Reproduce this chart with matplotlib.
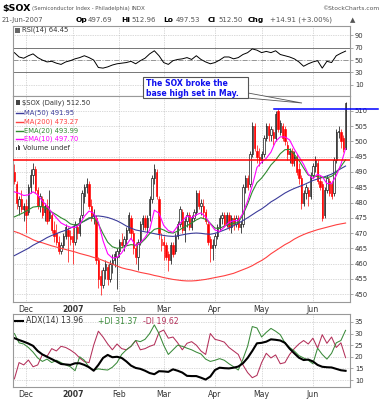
import numpy as np
import matplotlib
matplotlib.use("Agg")
import matplotlib.pyplot as plt
from matplotlib.lines import Line2D
from matplotlib.patches import Rectangle, Polygon

plt.rcParams['font.family'] = ['DejaVu Sans']

# ---- data (one entry per trading day from 24-Nov-2006) ----
months = ['Dec', '2007', 'Feb', 'Mar', 'Apr', 'May', 'Jun']
month_start = [5, 25, 45, 64, 86, 106, 128]

prev_close0 = 492.0
opens = [490, 486, 479, 481, 478, 479, 477, 485, 489, 491, 484, 479, 481, 477, 479, 475, 476, 471, 470, 467,
         464, 466, 469, 471, 469, 469, 467, 472, 470, 476, 482, 485, 486, 479, 476, 475, 461, 456, 453, 458,
         459, 455, 460, 461, 462, 464, 467, 466, 468, 471, 475, 470, 465, 462, 467, 473, 475, 472, 476, 481,
         488, 490, 481, 466, 467, 466, 463, 461, 466, 464, 469, 473, 477, 471, 474, 476, 472, 475, 477, 483,
         479, 479, 477, 473, 468, 465, 466, 469, 472, 475, 476, 473, 476, 472, 475, 473, 475, 472, 473, 485,
         488, 486, 496, 505, 497, 495, 494, 496, 501, 505, 502, 503, 501, 510, 503, 505, 504, 499, 496, 497,
         494, 495, 491, 488, 480, 483, 484, 482, 489, 492, 493, 487, 486, 476, 484, 487, 486, 483, 494, 503,
         503, 501, 497.69]
highs = [492.5, 487, 482, 484, 480, 481, 486, 491, 493, 492, 485, 483, 482, 480, 481, 484, 477, 474, 473, 469,
         467, 470, 473, 472, 471, 472, 474, 473, 476, 484, 486, 488, 487, 481, 478, 476, 462, 458, 459, 461,
         460, 461, 463, 464, 465, 468, 470, 469, 472, 477, 476, 471, 467, 468, 474, 476, 476, 476, 482, 489,
         492.7, 491, 482, 470, 469, 467, 464, 467, 467, 470, 474, 479, 478, 475, 477, 477, 476, 478, 484, 484,
         481, 481, 478, 474, 469, 468, 470, 473, 476, 477, 477, 477, 477, 476, 476, 476, 476, 474, 486, 489,
         489, 497, 506.5, 506, 499, 498, 497, 502, 506, 506, 505, 504, 510, 510.6, 507, 506, 505, 500, 498, 498,
         497, 496, 493, 489, 484, 486, 485, 490, 493, 495.3, 494, 489, 487, 485, 489, 488, 487, 495, 504, 505,
         504, 502, 512.96]
lows = [486, 478, 476, 477, 474, 470, 476, 483, 486, 483, 478, 477, 475, 474, 473, 474, 470, 467, 466, 463,
        463, 465, 468, 460.5, 466, 460, 466, 468, 469, 475, 480, 483, 478, 474, 473, 460, 452, 449.7, 452, 455,
        453, 454, 457, 459, 451.5, 462, 465, 464, 466, 470, 468, 463, 460, 457.8, 466, 471, 471, 470, 474, 480,
        486, 481, 468, 464, 461, 461, 457.5, 460, 462, 463, 468, 472, 470, 467, 472, 471, 471, 474, 476, 478,
        476, 475, 473, 466, 460.5, 461, 465, 468, 471, 473, 472, 472, 471, 470, 471, 472, 471, 470, 472, 483,
        484, 485, 495, 497, 493, 492, 493, 495, 500, 500, 500, 499, 500, 503, 502, 500, 499, 494, 493, 492,
        492, 489, 486, 478, 479, 481, 479, 481, 488, 490, 486, 484, 474, 475, 483, 482, 481, 482, 493, 501,
        498, 496.5, 497.53]
closes = [487, 480, 481, 478, 479, 476, 485, 489, 491, 484, 479, 482, 476, 479, 474, 477, 471, 469, 467, 464,
          466, 469, 472, 469, 468, 467, 473, 470, 475, 483, 485, 486, 479, 475, 476, 461, 455, 453, 458, 460,
          455, 460, 461, 463, 464, 467, 466, 468, 471, 476, 470, 465, 462, 467, 473, 475, 472, 475, 481, 488,
          491, 482, 470, 468, 466, 462, 461, 466, 463, 469, 473, 478, 471, 474, 476, 472, 475, 477, 483, 479,
          480, 477, 474, 467, 465, 466, 469, 472, 475, 476, 473, 476, 472, 475, 473, 475, 472, 473, 485, 488,
          485, 496, 505, 498, 495, 494, 496, 501, 505, 502, 504, 501, 509, 504, 506, 501, 500, 496, 497, 493,
          495, 490, 488, 480, 483, 485, 482, 489, 492, 494, 487, 485, 475, 484, 488, 483, 482, 494, 503, 503.5,
          500, 497.59, 512.5]

# indicator lines, sampled every second trading day
line_step = 2
ma50 = [462.6, 463.4, 464.2, 465, 466, 466.8, 467.6, 468.5, 469.2, 469.8, 470.4, 470.9, 471.6, 472.4, 473.2,
        473.9, 474.7, 475.5, 475.6, 475.4, 475.1, 474.6, 474, 473.2, 472.3, 471.6, 471, 470.7, 470.4, 470.1,
        469.8, 469.5, 469.2, 469, 468.9, 469.1, 469.4, 469.7, 469.9, 470, 469.9, 469.7, 469.6, 469.9, 470.4,
        471, 471.6, 472.4, 473.2, 474.1, 475, 476, 477, 477.9, 479, 480.2, 481.1, 482.1, 483.1, 483.9, 484.6,
        485.2, 485.8, 486.5, 487.2, 487.7, 488.2, 488.7, 489.3, 490.2, 491.1, 491.95]
ma200 = [470.5, 470, 469.3, 468.6, 467.8, 467.2, 466.8, 466.3, 465.8, 465.4, 465, 464.6, 464.2, 463.8, 463.3,
         462.9, 462.5, 462, 461.6, 461, 460.4, 459.8, 459.2, 458.6, 458.2, 457.9, 457.5, 457.1, 456.8, 456.5,
         456.1, 455.8, 455.4, 455.1, 454.8, 454.6, 454.4, 454.3, 454.3, 454.4, 454.6, 454.8, 455.1, 455.4, 455.7,
         456, 456.4, 456.8, 457.4, 458, 458.6, 459.3, 460.2, 461, 462, 463.2, 464.2, 465.2, 466.2, 467, 468,
         468.8, 469.5, 470.1, 470.6, 471.1, 471.5, 471.9, 472.3, 472.7, 473, 473.27]
ema20 = [475.3, 476, 476.7, 477.6, 478.5, 478.7, 478.6, 478, 476.9, 476, 475, 474.2, 473, 472.6, 473, 474, 475,
         474.8, 473, 469.8, 467, 465.5, 465, 465.2, 465.8, 466.2, 466, 466.5, 468, 469.8, 471.2, 471.6, 471,
         470.2, 470, 470.6, 471.6, 472.4, 473.3, 474.3, 475, 474.5, 473.2, 471.6, 471.5, 472.3, 472.8, 473.1,
         473.5, 476, 479.5, 483.5, 486.5, 488, 490, 492.3, 493.9, 496, 497.3, 497.4, 495.8, 493.8, 491.3, 489,
         488.7, 488.5, 488.2, 488.1, 488.6, 489.8, 491.8, 493.99]
ema10 = [483.5, 483, 482.3, 482.5, 483.5, 482.5, 480.5, 478.8, 476.8, 475, 473.3, 472.5, 471.9, 471.8, 472.8,
         475.5, 477.2, 476.5, 473.5, 467.5, 463.2, 461.8, 462, 463.5, 466, 468.3, 465.8, 466.8, 468.5, 471,
         477.5, 476.5, 472.5, 470.8, 470.2, 472.3, 474, 475.6, 475, 476, 476.6, 475.3, 473, 471, 470.5, 472,
         473.5, 474.1, 474, 476.5, 480.5, 485.5, 491.5, 493.2, 494.5, 496.5, 500, 501.5, 501.5, 500.5, 497.5,
         495, 492.5, 489.3, 487.8, 489.3, 488.5, 486.2, 486.2, 488.8, 492.5, 497.7]
rsi = [62, 55, 53, 57, 60, 54, 50, 47, 48, 45, 43, 47, 49, 52, 54, 57, 54, 50, 38, 37, 39, 42, 44, 45, 46, 48,
       44, 49, 53, 60, 65, 57, 46, 43, 49, 51, 52, 54, 51, 57, 51, 47, 44, 46, 50, 55, 55, 52, 54, 59, 62, 68,
       66, 62, 64, 62, 65, 59, 57, 55, 52, 47, 40, 44, 47, 49, 37, 48, 46, 57, 61, 64.45]
adx = [28, 27.2, 26.5, 25.7, 24.7, 22.5, 21, 20, 19, 18, 16.9, 16.7, 16.5, 17.2, 17.2, 16.5, 15.5, 14, 16.5,
       19.5, 20.8, 19.8, 20, 19.5, 18, 16.2, 15.2, 14.8, 14, 13, 12.5, 13.8, 13.7, 13.5, 14.6, 14, 13.2, 11.8,
       11.7, 11.7, 11, 10.2, 11.5, 14.3, 15.3, 15.1, 15, 15.3, 15.8, 17.2, 19.5, 22.5, 25.8, 26, 26.5, 27.5,
       27.3, 27, 26, 23.5, 21.5, 19.6, 18.6, 18.8, 18, 16.5, 15.7, 15.5, 15.4, 14.8, 14.2, 13.96]
plus_di = [30, 26, 25.5, 24, 22, 19.5, 18, 19, 17.5, 18.5, 17.5, 16.5, 15.7, 14, 20, 18.5, 15.5, 14.3, 14.8,
           14.5, 14.3, 15.5, 17.5, 21, 23, 24.5, 27, 26.5, 27.5, 30, 33.7, 30, 25, 21, 23, 25, 24.5, 23.7, 23,
           22, 21.2, 19, 18, 18.5, 19.2, 18.5, 17, 15.7, 14.3, 19, 24.5, 33, 32.4, 28.5, 30.5, 32.2, 31, 29.5,
           26, 24, 22.5, 20.5, 19.5, 18.5, 17, 23.7, 21, 19, 21.5, 26, 27, 31.37]
minus_di = [10.5, 17.5, 16.5, 18.6, 15.7, 16.5, 21, 20.2, 23.5, 22.5, 24.5, 24, 22.9, 21.5, 19.5, 17.9, 17.5,
            25, 31, 28.5, 25.5, 23, 25.5, 23.5, 23, 24.5, 27, 23, 23.5, 24.5, 25.2, 30.5, 31.5, 28, 28.5, 26,
            23, 25.8, 26.5, 25, 22.5, 21, 30, 27.5, 27, 26.3, 24, 22.5, 21, 16.5, 13.2, 11, 12, 17.5, 21.5,
            19.5, 20.8, 17, 17.5, 21, 23.5, 25.5, 27, 25.5, 28, 23.7, 29.5, 25.8, 28.5, 24, 26, 19.62]

base_level = 494.0

# ---- layout helpers (pixel positions of the 382x400 picture) ----
W, H = 382, 400
fig = plt.figure(figsize=(W / 100, H / 100), dpi=100)
fig.patch.set_facecolor('white')


def box(x0, y0, x1, y1):
    return [x0 / W, 1 - y1 / H, (x1 - x0) / W, (y1 - y0) / H]


def ptext(x, y, s, **kw):
    kw.setdefault('va', 'center')
    return fig.text(x / W, 1 - y / H, s, **kw)


n = len(closes)
days = np.arange(n)
line_x = np.arange(0, n, line_step)
xlim = (-0.6, 143.9)
grid_kw = dict(color='#b5b5b5', linestyle=(0, (1, 1.5)), linewidth=0.5)


def style(ax, yticks, ylim, labels=True):
    ax.set_xlim(*xlim)
    ax.set_ylim(*ylim)
    ax.yaxis.tick_right()
    ax.set_yticks(yticks)
    ax.tick_params(axis='y', length=2, width=0.5, color='#888', labelsize=4.9,
                   labelcolor='#333', pad=1.5)
    ax.set_xticks(month_start)
    if labels:
        ax.set_xticklabels(months)
        ax.tick_params(axis='x', length=0, labelsize=5.6, labelcolor='#333', pad=2.5)
        ax.get_xticklabels()[1].set_fontweight('bold')
    else:
        ax.set_xticklabels([])
        ax.tick_params(axis='x', length=0)
    ax.grid(True, **grid_kw)
    ax.set_axisbelow(True)
    for sp in ax.spines.values():
        sp.set_color('#999')
        sp.set_linewidth(0.8)


# ---- RSI panel ----
ax_rsi = fig.add_axes(box(13, 26, 350, 96))
style(ax_rsi, [10, 30, 50, 70, 90], (-8, 105), labels=False)
ax_rsi.axhline(70, color='#777', lw=0.7)
ax_rsi.axhline(30, color='#777', lw=0.7)
ax_rsi.axhline(50, color='#888', lw=0.6, linestyle=(0, (6, 2, 1, 2)))
ax_rsi.plot(line_x, rsi, color='black', lw=0.7)

# ---- price panel ----
ax = fig.add_axes(box(13, 96, 350, 302))
style(ax, np.arange(450, 511, 5), (447.4, 514.9))

o, hi, lo, c = (np.array(v, dtype=float) for v in (opens, highs, lows, closes))
prev = np.r_[prev_close0, c[:-1]]
edge = np.where(c >= prev, 'black', 'red')
face = np.where(c > o, 'white', edge)
ax.vlines(days, lo, hi, colors=edge, lw=0.5, zorder=3)
ax.bar(days, np.maximum(np.abs(c - o), 0.2), bottom=np.minimum(o, c), width=0.62,
       color=face, edgecolor=edge, linewidth=0.45, zorder=4)

ax.plot(line_x, ma200, color='#ff4040', lw=0.8, zorder=5)
ax.plot(line_x, ma50, color='#3b3b9a', lw=0.8, zorder=5)
ax.plot(line_x, ema20, color='#2f8a2f', lw=0.8, zorder=5)
ax.plot(line_x, ema10, color='#ff00ff', lw=0.8, zorder=5)

ax.axhline(base_level, color='#ff0000', lw=1.1, zorder=6)
may = slice(month_start[5], month_start[6])
may_hi_day = month_start[5] + int(np.argmax(hi[may]))
ax.plot([may_hi_day - 1.5, 156], [hi[may].max(), hi[may].max()], color='#0000ff', lw=1.1,
        zorder=6, clip_on=False)

# ---- ADX panel ----
ax_adx = fig.add_axes(box(13, 314, 350, 387))
style(ax_adx, [10, 15, 20, 25, 30, 35], (7, 38.4))
ax_adx.plot(line_x, minus_di, color='#b3305a', lw=0.75)
ax_adx.plot(line_x, plus_di, color='#3a8a3a', lw=0.75)
ax_adx.plot(line_x, adx, color='black', lw=1.5)

# ---- header ----
ptext(2, 8, '$SOX', fontsize=6.8, fontweight='bold', color='black')
ptext(32, 8.5, '(Semiconductor Index - Philadelphia)', fontsize=3.8, color='#555')
ptext(132, 8.5, 'INDX', fontsize=4.1, color='#555')
ptext(379, 8.5, '\u00a9StockCharts.com', fontsize=4.3, color='#555', ha='right')
ptext(2, 20, '21-Jun-2007', fontsize=4.9, color='#555')
row = [(76, 'Op', True), (88, '497.69', False), (121, 'Hi', True), (131, '512.96', False),
       (163, 'Lo', True), (176, '497.53', False), (208, 'Cl', True), (218, '512.50', False),
       (248, 'Chg', True), (270, '+14.91 (+3.00%)', False), (350, '\u25b2', False)]
for x, s, b in row:
    ptext(x, 20, s, fontsize=5.4 if b else 5.0, fontweight='bold' if b else 'normal',
          color='black' if b else '#555')

# ---- panel legends ----
fig.patches.append(Rectangle((15 / W, 1 - 33 / H), 5 / W, 5 / H, transform=fig.transFigure,
                             facecolor='#666', edgecolor='none'))
ptext(22, 30, 'RSI(14) 64.45', fontsize=4.9, color='#333')

fig.patches.append(Rectangle((16 / W, 1 - 105 / H), 4 / W, 5 / H, transform=fig.transFigure,
                             facecolor='#444', edgecolor='none'))
ptext(22, 102.5, '$SOX (Daily) 512.50', fontsize=4.9, color='#333')
legend_rows = [('MA(50) 491.95', '#3b3b9a', 112.5), ('MA(200) 473.27', '#ff4040', 121.5),
               ('EMA(20) 493.99', '#2f8a2f', 130.5), ('EMA(10) 497.70', '#ff00ff', 139)]
for s, col, y in legend_rows:
    fig.add_artist(Line2D([16 / W, 23 / W], [1 - y / H] * 2, color=col, lw=1.0))
    ptext(24, y, s, fontsize=4.9, color=col)
for k, hgt in enumerate([3, 5, 4]):
    fig.patches.append(Rectangle(((16 + 1.6 * k) / W, 1 - 149.5 / H), 1.1 / W, hgt / H,
                                 transform=fig.transFigure, facecolor='#444', edgecolor='none'))
ptext(23, 147.5, 'Volume undef', fontsize=4.9, color='#333')

fig.add_artist(Line2D([15 / W, 23 / W], [1 - 321 / H] * 2, color='black', lw=1.5))
ptext(26, 321, 'ADX(14) 13.96 ', fontsize=5.6, color='#333')
ptext(98, 321, '+DI 31.37 ', fontsize=5.6, color='#3a8a3a')
ptext(143, 321, '-DI 19.62', fontsize=5.6, color='#b3305a')

# ---- call-out box ----
fig.patches.append(Polygon([(236 / W, 1 - 97 / H), (248 / W, 1 - 93 / H), (302 / W, 1 - 103 / H)],
                           closed=True, transform=fig.transFigure, facecolor='white',
                           edgecolor='#555', lw=0.6, zorder=1))
fig.patches.append(Rectangle((143 / W, 1 - 98 / H), 105 / W, 21 / H, transform=fig.transFigure,
                             facecolor='white', edgecolor='#555', lw=0.8, zorder=1.5))
ptext(146, 83, 'The SOX broke the', fontsize=5.6, fontweight='bold', color='#1010ee', zorder=4)
ptext(146, 93.5, 'base high set in May.', fontsize=5.6, fontweight='bold', color='#1010ee', zorder=4)

fig.savefig('out.png', dpi=100, facecolor='white')
